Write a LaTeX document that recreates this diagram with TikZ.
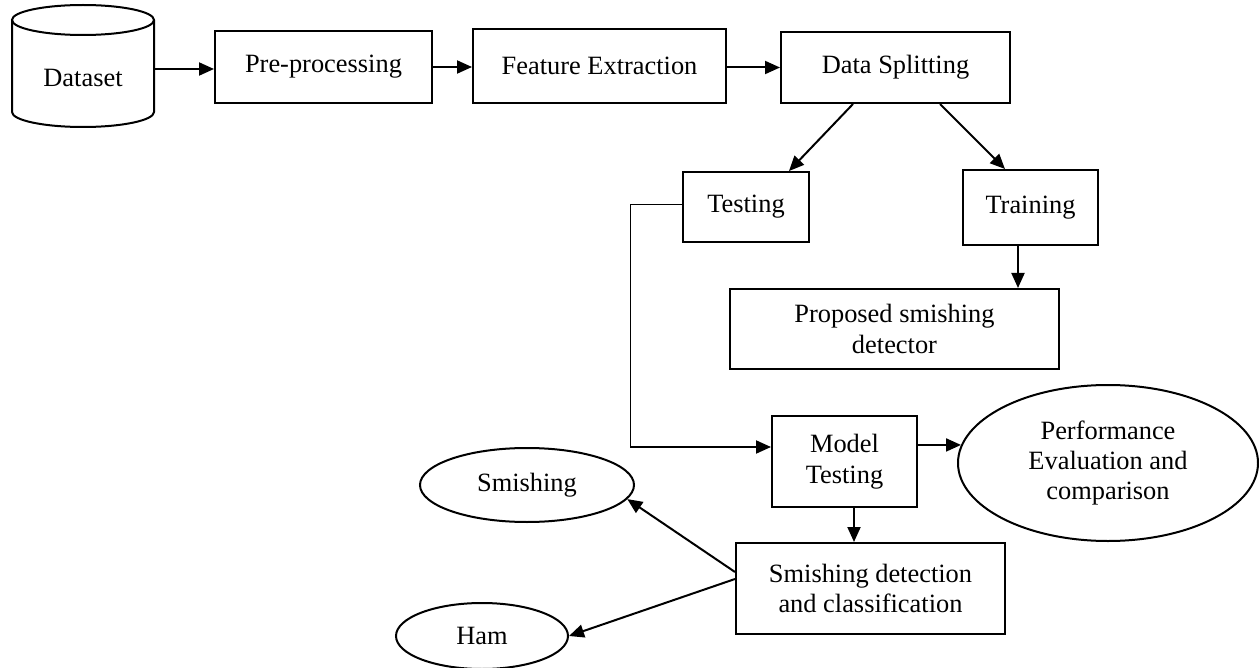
\documentclass[tikz,border=0pt]{standalone}
\usepackage{fontspec}
\setmainfont{Liberation Serif}
\usetikzlibrary{shapes.geometric,arrows.meta,calc}
\begin{document}
\begin{tikzpicture}[x=1bp,y=-1bp,
  every node/.style={font=\fontsize{26.5}{30.5}\selectfont, align=center, inner sep=0pt},
  box/.style={draw, line width=2bp, rectangle},
  oval/.style={draw, line width=2bp, ellipse},
  arr/.style={line width=2bp, -{Triangle[length=15bp,width=13bp]}},
  thinline/.style={line width=1bp}]
\useasboundingbox (0,0) rectangle (1259,668);
% cylinder
\draw[line width=2bp] (12,20) -- (12,112) arc[start angle=180, end angle=0, x radius=71, y radius=15] -- (154,20);
\draw[line width=2bp] (83,20) ellipse [x radius=71, y radius=15];
\node (ds) at (83,78) {Dataset};
\coordinate (dsout) at (154,69);
% top row
\node[box, minimum width=217bp, minimum height=72bp] (pre) at (323.5,67) {Pre-processing};
\node[box, minimum width=253bp, minimum height=74bp] (feat) at (599.5,66) {Feature Extraction};
\node[box, minimum width=229bp, minimum height=71bp] (split) at (895.5,67.5) {Data Splitting};
% second row
\node[box, minimum width=126bp, minimum height=70bp] (test) at (746,207) {Testing};
\node[box, minimum width=135bp, minimum height=75bp] (train) at (1030.5,207.5) {Training};
\node[box, minimum width=329bp, minimum height=80bp] (prop) at (894.5,329) {Proposed smishing\\detector};
% lower part
\node[box, minimum width=145bp, minimum height=91bp] (model) at (844.5,461.5) {Model\\Testing};
\node[oval, minimum width=300bp, minimum height=156bp] (perf) at (1108,463) {Performance\\Evaluation and\\comparison};
\node[box, minimum width=269bp, minimum height=91bp] (sd) at (870.5,588.5) {Smishing detection\\and classification};
\node[oval, minimum width=214bp, minimum height=74bp] (smish) at (527,485) {Smishing};
\node[oval, minimum width=172bp, minimum height=66bp] (ham) at (482,636) {Ham};
\coordinate (bend) at (630,205);
\coordinate (low) at (630,447);
% connectors
\draw[arr] (dsout) -- (dsout -| pre.west);
\draw[arr] (pre.east) -- (pre.east -| feat.west);
\draw[arr] (feat.east |- split.west) -- (split.west);
\draw[arr] ([xshift=-42.5bp]split.south) -- ([xshift=43bp]test.north);
\draw[arr] ([xshift=44.5bp]split.south) -- ([xshift=-25.5bp]train.north);
\draw[arr] ([xshift=-12.5bp]train.south) -- ([xshift=-12.5bp]train.south |- prop.north);
\draw[thinline] (test.west |- bend) -- (bend) -- (low);
\draw[arr] (low) -- (low -| model.west);
\draw[arr] (model.east |- perf.173) -- (perf.173);
\draw[arr] ([xshift=9.5bp]model.south) -- ([xshift=9.5bp]model.south |- sd.north);
\draw[arr] ([yshift=16.5bp]sd.west) -- (smish.-8);
\draw[arr] ([yshift=9.5bp]sd.west) -- (ham.east);
\end{tikzpicture}
\end{document}
